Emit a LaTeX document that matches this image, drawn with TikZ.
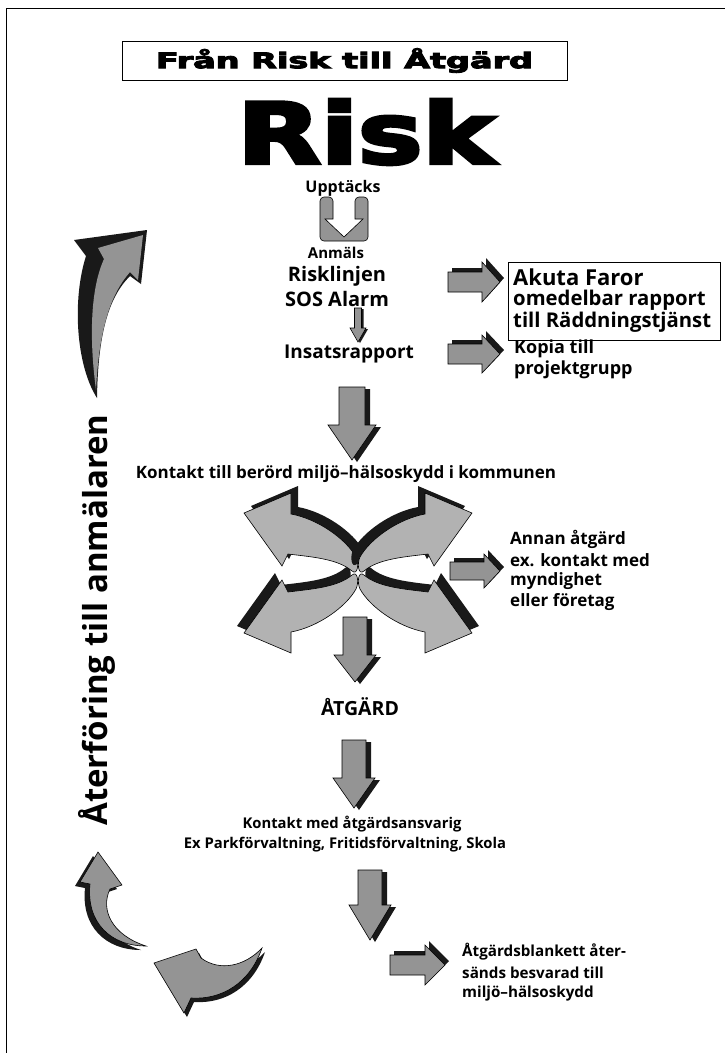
\documentclass[tikz,border=0pt]{standalone}
\usepackage{fontspec}
\usepackage{graphicx}
\setmainfont{Open Sans}
\newfontfamily\heavy{DejaVu Sans}[BoldFeatures={FakeBold=4}]
\tikzset{
  arrgray/.style={fill=black!42, draw=black, line width=0.6pt, line join=miter},
  crossgray/.style={fill=black!30, draw=black, line width=0.6pt, line join=miter},
  arrdark/.style={fill=black!90},
  txt/.style={inner sep=0pt, font=\bfseries\fontsize{#1}{#1}\selectfont},
  frame/.style={draw=black, line width=1pt, inner sep=0pt},
}
\newcommand{\DownPath}[6]{({#1-#3},#2) -- ({#1+#3},#2) -- ({#1+#3},#5) -- ({#1+#4},#5) -- (#1,#6) -- ({#1-#4},#5) -- ({#1-#3},#5) -- cycle}
\newcommand{\DownArr}[6]{%
  \fill[arrdark, shift={(5,2)}] \DownPath{#1}{#2}{#3}{#4}{#5}{#6};
  \filldraw[arrgray] \DownPath{#1}{#2}{#3}{#4}{#5}{#6};}
\newcommand{\RightPath}[6]{(#1,{#2-#3}) -- (#5,{#2-#3}) -- (#5,{#2-#4}) -- (#6,#2) -- (#5,{#2+#4}) -- (#5,{#2+#3}) -- (#1,{#2+#3}) -- cycle}
\newcommand{\RightArr}[6]{%
  \fill[arrdark, shift={(4,-4)}] \RightPath{#1}{#2}{#3}{#4}{#5}{#6};
  \filldraw[arrgray] \RightPath{#1}{#2}{#3}{#4}{#5}{#6};}
\newcommand{\CrossPath}{(67,-65) -- (67,-86) -- (114,-66) -- (76,-13) -- (70,-25) .. controls (45,-22) and (20,-20) .. (6,-8) .. controls (0,-3) and (-1,-16) .. (2,-22) .. controls (12,-40) and (40,-60) .. (67,-65) -- cycle}
\newcommand{\LLPath}{(90,884) -- (80,882) -- (98,852) -- (122,885) -- (110,889) .. controls (100,910) and (112,935) .. (146,946) .. controls (110,946) and (86,922) .. (90,884) -- cycle}
\newcommand{\BotPath}{(201,958) -- (196,949) -- (154,963) -- (184,1013) -- (191,998) .. controls (222,1000) and (250,983) .. (262,948) .. controls (245,966) and (220,972) .. (201,958) -- cycle}
\begin{document}
\begin{tikzpicture}[x=1pt,y=-1pt]
\useasboundingbox (0,0) rectangle (725,1053);
\fill[white] (0,0) rectangle (725,1053);
\draw[line width=1.3pt] (6.5,1060) -- (6.5,8.5) -- (735,8.5);

% title and Risk
\node[frame, minimum width=445pt, minimum height=39pt] (title) at (344.5,60.5) {\resizebox{377pt}{20pt}{\heavy\bfseries Från Risk till Åtgärd}};
\node[inner sep=0pt] (risk) at (366,132) {\resizebox{257pt}{64pt}{\heavy\bfseries Risk}};

% texts, main column
\node[txt=16] (upp) at (343,188) {Upptäcks};
\node[txt=15] (anm) at (336,253) {Anmäls};
\node[txt=20] (risklinjen) at (337,276) {Risklinjen};
\node[txt=20] (sos) at (337,299) {SOS Alarm};
\node[txt=19] (insats) at (349,354) {Insatsrapport};
\node[txt=17] (kontakt1) at (346,474) {Kontakt till berörd miljö–hälsoskydd i kommunen};
\node[txt=19.5] (atgard) at (360,707) {ÅTGÄRD};
\node[txt=14.8] (kontakt2) at (352,824) {Kontakt med åtgärdsansvarig};
\node[txt=14.8] (expark) at (345,845) {Ex Parkförvaltning, Fritidsförvaltning, Skola};

% right column
\node[frame, line width=0.8pt, anchor=north west, minimum width=212pt, minimum height=78pt] (akutabox) at (508,262) {};
\node[txt=22, anchor=west] (akuta) at (513,277) {Akuta Faror};
\node[txt=20.3, anchor=west] (omed) at (513,300) {omedelbar rapport};
\node[txt=20.3, anchor=west] (radd) at (513,322) {till Räddningstjänst};
\node[txt=18, anchor=west] (kopia) at (514,349) {Kopia till};
\node[txt=18, anchor=west] (projekt) at (514,370) {projektgrupp};
\node[txt=17, anchor=west] (annan1) at (510,539) {Annan åtgärd};
\node[txt=17, anchor=west] (annan2) at (510,560) {ex. kontakt med};
\node[txt=17, anchor=west] (annan3) at (510,581) {myndighet};
\node[txt=17, anchor=west] (annan4) at (510,602) {eller företag};
\node[txt=15.2, anchor=west] (blank1) at (462,952) {Åtgärdsblankett åter-};
\node[txt=15.2, anchor=west] (blank2) at (462,973) {sänds besvarad till};
\node[txt=15.2, anchor=west] (blank3) at (462,994) {miljö–hälsoskydd};

% vertical text
\node[txt=33, rotate=90] (feedback) at (97,620) {Återföring till anmälaren};

% hollow arrow
\filldraw[arrgray, rounded corners=4] (320,241) -- (320,197) -- (333,197) [sharp corners] -- (333,219) -- (325,219) -- (344,237) -- (363,219) -- (355,219) [rounded corners=4] -- (355,197) -- (368,197) -- (368,241) -- cycle;

% thin arrow
\fill[arrdark, shift={(2,1)}] \DownPath{358}{308}{3.5}{8}{328}{342};
\filldraw[arrgray] \DownPath{358}{308}{3.5}{8}{328}{342};

% down arrows
\DownArr{352}{387}{13}{24}{425}{460}
\DownArr{355}{617}{12}{21}{655}{682}
\DownArr{354}{740}{12}{21}{778}{808}
\DownArr{370}{870}{12}{21}{905}{940}

% right arrows
\RightArr{448}{282}{10}{20}{482}{500}
\RightArr{448}{354}{10}{19}{482}{500}
\RightArr{450}{571}{9}{17}{484}{500}
\RightArr{390}{965}{10}{20}{425}{445}

% cross
\begin{scope}[shift={(358,567)}, xscale=-1, yscale=-1]
  \fill[arrdark, shift={(7,7)}] \CrossPath; \filldraw[crossgray] \CrossPath;
\end{scope}
\begin{scope}[shift={(358,567)}, yscale=-1]
  \fill[arrdark, shift={(7,7)}] \CrossPath; \filldraw[crossgray] \CrossPath;
\end{scope}
\begin{scope}[shift={(358,579)}, xscale=-1]
  \fill[arrdark, shift={(-7,-7)}] \CrossPath; \filldraw[crossgray] \CrossPath;
\end{scope}
\begin{scope}[shift={(358,579)}]
  \fill[arrdark, shift={(-7,-7)}] \CrossPath; \filldraw[crossgray] \CrossPath;
\end{scope}

% curved feedback arrows
\fill[arrdark] (74,240) -- (147,230) -- (141,284) -- (130,276) .. controls (108,298) and (98,335) .. (97,398) .. controls (76,365) and (72,300) .. (86,256) -- cycle;
\fill[black!42] (104,259) -- (98,248) -- (143,235) -- (138,280) -- (130,272) .. controls (110,295) and (99,330) .. (96,390) .. controls (90,345) and (89,292) .. (104,259) -- cycle;
\fill[arrdark, shift={(-5,4)}] \LLPath;
\filldraw[arrgray] \LLPath;
\fill[arrdark, shift={(3,4)}] \BotPath;
\filldraw[arrgray] \BotPath;
\end{tikzpicture}
\end{document}
